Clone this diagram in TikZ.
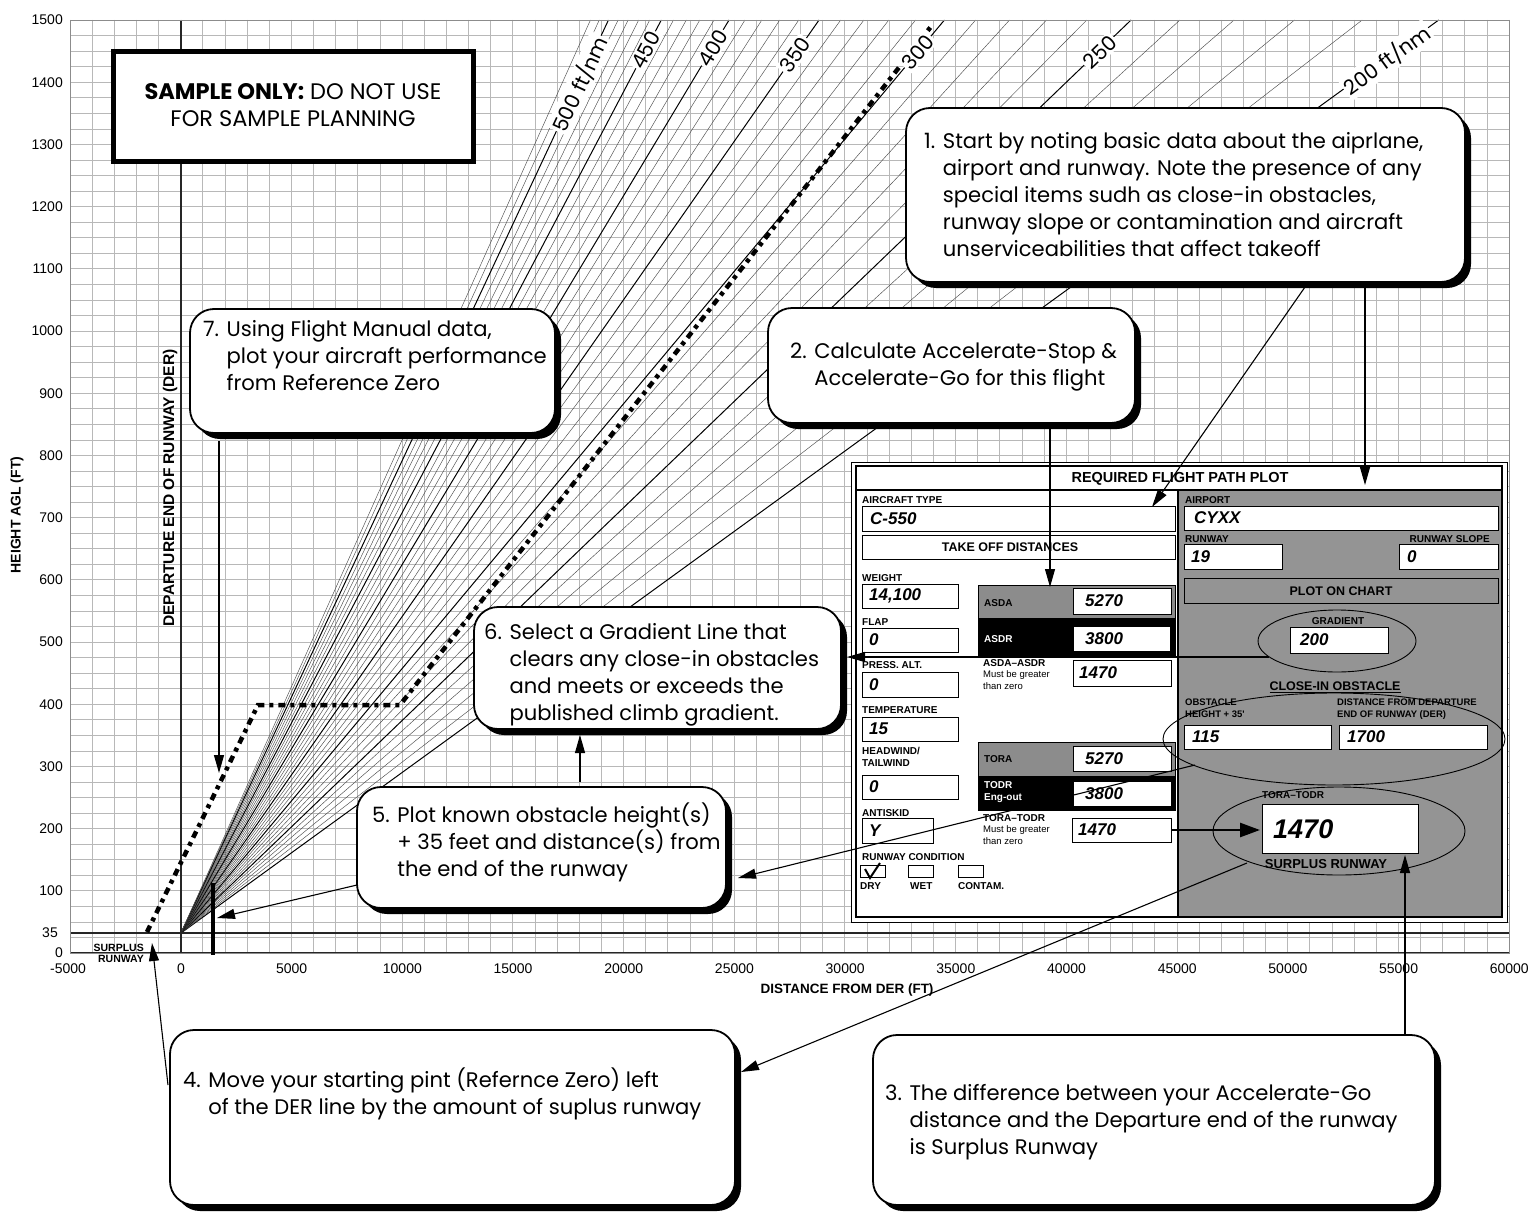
\documentclass[tikz,border=0pt]{standalone}
\usepackage{fontspec}
\setmainfont{Liberation Sans}
\newfontfamily\calfont{Poppins}
\newfontfamily\hel{Liberation Sans}
\usetikzlibrary{arrows.meta,shadows,calc,shapes.geometric}
\definecolor{formgray}{gray}{0.58}
\definecolor{blockgray}{gray}{0.55}
\newcommand\FBx[7]{\draw[fboxs] (#2,#3) rectangle (#4,#5); \node[fval] (#1) at ({#2+#6},{(#3+#5)/2}) {#7};}
\newcommand\FLb[4]{\node[flabs] (#1) at (#2,#3) {#4};}
\begin{document}
\begin{tikzpicture}[x=1pt,y=-1pt,
  gridl/.style={black!28,line width=0.7pt},
  fanl/.style={black!70,line width=0.45pt},
  fanm/.style={black,line width=1pt},
  axisl/.style={black!85,line width=1.1pt},
  plotd/.style={black,line width=4.5pt,dash pattern=on 7pt off 5pt on 4pt off 5pt},
  callout/.style={draw=black,line width=1.8pt,fill=white,rounded corners=24pt,inner sep=0pt,outer sep=0pt,
    drop shadow={shadow xshift=6pt,shadow yshift=-6pt,opacity=1,fill=black}},
  ctext/.style={font=\calfont\fontsize{21.1}{27}\selectfont,align=left,inner sep=0pt,anchor=north west},
  glab/.style={font=\calfont\fontsize{20.5}{20.5}\selectfont,fill=white,inner sep=1.5pt},
  tick/.style={font=\hel\fontsize{14}{14}\selectfont,inner sep=0pt},
  atitle/.style={font=\hel\bfseries\fontsize{14}{14}\selectfont,inner sep=0pt},
  fboxs/.style={draw=black,fill=white,line width=1pt},
  fval/.style={font=\hel\bfseries\itshape\fontsize{17}{17}\selectfont,anchor=west,inner sep=0pt},
  flabs/.style={font=\hel\bfseries\fontsize{10}{12.5}\selectfont,anchor=west,inner sep=0pt},
  fsmall/.style={font=\hel\fontsize{9.5}{12}\selectfont,anchor=north west,align=left,inner sep=0pt},
  fhead/.style={font=\hel\bfseries\fontsize{12.5}{12.5}\selectfont,inner sep=0pt},
  arr/.style={line width=1.1pt,-{Triangle[length=18pt,width=10pt]}},
  arrthick/.style={line width=2.6pt,-{Triangle[length=20pt,width=14pt]}}
]
\useasboundingbox (0,0) rectangle (1534,1215);
\fill[white] (0,0) rectangle (1534,1215);

% ---------- grid ----------
\foreach \i in {0,...,65} \draw[gridl] ({70+\i*22.138},20) -- ({70+\i*22.138},953);
\foreach \j in {0,...,60} \draw[gridl] (70,{20+\j*15.55}) -- (1509,{20+\j*15.55});

% ---------- gradient fan ----------
\coordinate (rz) at (181,933);
\foreach \g in {200,210,...,520}{
  \pgfmathsetmacro\fs{0.0047*\g-0.214}
  \pgfmathsetmacro\fx{181+913/\fs}
  \pgfmathtruncatemacro\mm{mod(\g,50)}
  \ifnum\mm=0 \draw[fanm] (rz) -- (\fx,20); \else \draw[fanl] (rz) -- (\fx,20); \fi
}

% ---------- axes ----------
\draw[axisl] (181,20) -- (181,953);
\draw[axisl] (70,933) -- (1509,933);
\draw[axisl] (70,953) -- (1509,953);
\draw[black!45,line width=0.8pt] (70,20) rectangle (1509,953);

% plotted performance
\draw[plotd] (147,932) -- (258,705) -- (400,705) -- (933,24);

% obstacle bar
\draw[black,line width=4.5pt] (213,883) -- (213,955);
\coordinate (bar) at (217,918);

% gradient labels
\node[glab,rotate=64.9] (g500) at (580,84) {500 ft/nm};
\node[glab,rotate=62.2] (g450) at (646,50) {450};
\node[glab,rotate=59.0] (g400) at (713,48) {400};
\node[glab,rotate=55.1] (g350) at (795,55) {350};
\node[glab,rotate=50.1] (g300) at (918,52) {300};
\node[glab,rotate=43.9] (g250) at (1100,52) {250};
\node[glab,rotate=36.0] (g200) at (1387,60) {200 ft/nm};

% tick labels
\foreach \h in {100,200,...,1500} \node[tick,anchor=east] (yt\h) at (63,{953-\h*0.622}) {\h};
\node[tick,anchor=east] (yt35) at (58,933) {35};
\node[tick,anchor=east] (yt0) at (63,953) {0};
\foreach \k/\lab in {0/0,1/5000,2/10000,3/15000,4/20000,5/25000,6/30000,7/35000,8/40000,9/45000,10/50000,11/55000,12/60000}
  \node[tick] (xt\k) at ({181+\k*110.69},969) {\lab};
\node[tick] (xtm) at (68,969) {-5000};
\node[font=\hel\bfseries\fontsize{10.5}{11}\selectfont,align=right,anchor=north east,inner sep=0pt] (surpl) at (144,944) {SURPLUS\\RUNWAY};

\node[atitle,rotate=90] (ylab) at (17,515) {HEIGHT AGL (FT)};
\node[atitle,rotate=90,font=\hel\bfseries\fontsize{15.5}{15.5}\selectfont] (derlab) at (170,488) {DEPARTURE END OF RUNWAY (DER)};
\node[atitle,font=\hel\bfseries\fontsize{13.5}{14}\selectfont] (xlab) at (847,990) {DISTANCE FROM DER (FT)};

% ---------- sample box ----------
\draw[black,line width=5pt,fill=white] (113,52) rectangle (473,161);
\node[font=\calfont\fontsize{22.5}{27}\selectfont,align=center,inner sep=0pt] (samp) at (293,105) {\textbf{SAMPLE ONLY:} DO NOT USE\\FOR SAMPLE PLANNING};

% ---------- callouts ----------
\node[callout,minimum width=559,minimum height=174] (c1) at (1185.5,195) {};
\node[ctext] (t1) at (924,132) {1. Start by noting basic data about the aiprlane,\\\phantom{1. }airport and runway. Note the presence of any\\\phantom{1. }special items sudh as close-in obstacles,\\\phantom{1. }runway slope or contamination and aircraft\\\phantom{1. }unserviceabilities that affect takeoff};

\node[callout,minimum width=367,minimum height=115] (c2) at (951.5,365.5) {};
\node[ctext] (t2) at (790,343) {2. Calculate Accelerate-Stop \&\\\phantom{2. }Accelerate-Go for this flight};

\node[callout,minimum width=365,minimum height=124] (c7) at (372.5,371) {};
\node[ctext] (t7) at (203,320) {7. Using Flight Manual data,\\\phantom{7. }plot your aircraft performance\\\phantom{7. }from Reference Zero};

\node[callout,minimum width=367,minimum height=122] (c6) at (657.5,668) {};
\node[ctext] (t6) at (484,623) {6. Select a Gradient Line that\\\phantom{6. }clears any close-in obstacles\\\phantom{6. }and meets or exceeds the\\\phantom{6. }published climb gradient.};

\node[callout,minimum width=369,minimum height=121] (c5) at (541.5,847.5) {};
\node[ctext] (t5) at (372,803) {5. Plot known obstacle height(s)\\\phantom{5. }+ 35 feet and distance(s) from\\\phantom{5. }the end of the runway};

\node[callout,minimum width=565,minimum height=175] (c4) at (452.5,1117.5) {};
\node[ctext] (t4) at (183,1068) {4. Move your starting pint (Refernce Zero) left\\\phantom{4. }of the DER line by the amount of suplus runway};

\node[callout,minimum width=562,minimum height=170] (c3) at (1154,1120) {};
\node[ctext] (t3) at (885,1084) {3. The difference between your Accelerate-Go\\\phantom{3. }distance and the Departure end of the runway\\\phantom{3. }is Surplus Runway};

% ---------- form ----------
\draw[black,line width=0.8pt,fill=white] (851,462) rectangle (1507,922);
\fill[formgray] (1178,490) rectangle (1502,917);
\draw[black,line width=1.6pt] (856,466) rectangle (1502,917);
\draw[black,line width=1.2pt] (856,490) -- (1502,490);
\draw[black,line width=1.2pt] (1178,490) -- (1178,917);
\node[font=\hel\bfseries\fontsize{14.5}{14.5}\selectfont,inner sep=0pt] (ftitle) at (1180,479) {REQUIRED FLIGHT PATH PLOT};

% left column
\FLb{lac}{862}{500}{AIRCRAFT TYPE}
\FBx{vac}{862}{506}{1175}{531}{8}{C-550}
\draw[fboxs] (862,535) rectangle (1175,559);
\node[fhead] (tod) at (1010,547) {TAKE OFF DISTANCES};
\FLb{lw}{862}{578}{WEIGHT}
\FBx{vw}{862}{584}{958}{608}{7}{14,100}
\fill[blockgray] (978,585) rectangle (1175,618);
\fill[black] (978,618) rectangle (1175,655);
\draw[black,line width=0.8pt] (978,585) rectangle (1175,655);
\FLb{lasda}{984}{603}{ASDA}
\node[flabs,text=white] (lasdr) at (984,639) {ASDR};
\FBx{vasda}{1073}{588}{1171}{614}{12}{5270}
\draw[black,line width=2.5pt,fill=white] (1073,626) rectangle (1171,652);
\node[fval] (vasdr) at (1085,639) {3800};
\FLb{lflap}{862}{622}{FLAP}
\FBx{vflap}{862}{628}{958}{652}{7}{0}
\FLb{lpa}{862}{665}{PRESS. ALT.}
\FBx{vpa}{862}{672}{958}{697}{7}{0}
\FLb{lad}{983}{663}{ASDA–ASDR}
\node[fsmall] (lad2) at (983,670) {Must be greater\\than zero};
\FBx{vad}{1073}{660}{1171}{686}{6}{1470}
\FLb{ltemp}{862}{710}{TEMPERATURE}
\FBx{vtemp}{862}{717}{958}{741}{7}{15}
\node[flabs,align=left,anchor=north west] (lhw) at (862,747) {HEADWIND/\\TAILWIND};
\FBx{vhw}{862}{775}{958}{799}{7}{0}
\fill[blockgray] (978,742) rectangle (1175,776);
\fill[black] (978,776) rectangle (1175,810);
\draw[black,line width=0.8pt] (978,742) rectangle (1175,810);
\FLb{ltora}{984}{759}{TORA}
\node[flabs,text=white,align=left,anchor=north west] (ltodr) at (984,781) {TODR\\Eng-out};
\FBx{vtora}{1073}{746}{1171}{771}{12}{5270}
\FBx{vtodr}{1073}{781}{1171}{806}{12}{3800}
\FLb{lask}{862}{813}{ANTISKID}
\FBx{vask}{862}{818}{933}{843}{7}{Y}
\FLb{ltt}{983}{818}{TORA–TODR}
\node[fsmall] (ltt2) at (983,825) {Must be greater\\than zero};
\FBx{vtt}{1072}{818}{1171}{842}{6}{1470}
\FLb{lrc}{862}{857}{RUNWAY CONDITION}
\draw[black,line width=1pt] (860,865) rectangle (885,877);
\draw[black,line width=1pt] (908,865) rectangle (933,877);
\draw[black,line width=1pt] (958,865) rectangle (983,877);
\draw[black,line width=2pt] (865,869) -- (870,878) -- (880,863);
\FLb{ldry}{860}{886}{DRY}
\FLb{lwet}{910}{886}{WET}
\FLb{lcon}{958}{886}{CONTAM.}

% right column
\FLb{lap}{1185}{500}{AIRPORT}
\FBx{vap}{1184}{506}{1498}{530}{10}{CYXX}
\FLb{lrw}{1185}{539}{RUNWAY}
\FBx{vrw}{1184}{544}{1282}{569}{7}{19}
\node[flabs,anchor=east] (lrs) at (1490,539) {RUNWAY SLOPE};
\FBx{vrs}{1399}{544}{1498}{569}{8}{0}
\draw[black,line width=1pt] (1184,578) rectangle (1498,603);
\node[fhead] (poc) at (1341,591) {PLOT ON CHART};
\node[draw=black,ellipse,line width=0.9pt,minimum width=158,minimum height=62,inner sep=0pt] (ge) at (1337,641) {};
\node[flabs,anchor=center] (lgr) at (1338,621) {GRADIENT};
\FBx{vgr}{1290}{627}{1388}{653}{10}{200}
\node[fhead] (lcio) at (1335,687) {\underline{CLOSE-IN OBSTACLE}};
\node[draw=black,ellipse,line width=0.9pt,minimum width=342,minimum height=92,inner sep=0pt] (oe) at (1334,739) {};
\node[flabs,font=\hel\bfseries\fontsize{9.5}{12}\selectfont,align=left,anchor=north west] (lobs) at (1185,699) {OBSTACLE\\HEIGHT + 35'};
\node[flabs,font=\hel\bfseries\fontsize{9.5}{12}\selectfont,align=left,anchor=north west] (lder) at (1337,699) {DISTANCE FROM DEPARTURE\\END OF RUNWAY (DER)};
\FBx{vobs}{1184}{725}{1331}{749}{8}{115}
\FBx{vder}{1339}{725}{1487}{749}{8}{1700}
\FLb{ltt3}{1262}{795}{TORA–TODR}
\draw[fboxs] (1262,804) rectangle (1418,853);
\node[font=\hel\bfseries\itshape\fontsize{27}{27}\selectfont,anchor=west,inner sep=0pt] (vsr) at (1273,829) {1470};
\node[fhead,font=\hel\bfseries\fontsize{13}{13}\selectfont] (lsr) at (1326,864) {SURPLUS RUNWAY};
\node[draw=black,ellipse,line width=0.9pt,minimum width=252,minimum height=88,inner sep=0pt] (se) at (1339,831) {};

% ---------- connectors ----------
\coordinate (a1) at (1365,485);
\draw[arr] (a1 |- c1.south) -- (a1);
\coordinate (a1b) at (1152,507);
\draw[arr] ($(c1.south west)!0.72!(c1.south east)$) -- (a1b);
\coordinate (a2) at (1050,587);
\draw[arr] (a2 |- c2.south) -- (a2);
\coordinate (g6) at (1269,657);
\draw[arr] (g6) -- ($(g6 -| c6.east)+(6,0)$);
\coordinate (o5) at (1195,765);
\coordinate (t5in) at (738,878);
\draw[arr] (o5) -- (t5in);
\coordinate (c5l) at (357,885);
\draw[arr] (c5l) -- (bar);
\coordinate (u6) at (580,782);
\draw[arr] (u6) -- ($(u6 |- c6.south)+(0,6)$);
\coordinate (d7) at (219,773);
\draw[arr] ($(d7 |- c7.south)+(0,8)$) -- (d7);
\coordinate (s4) at (1247,863);
\coordinate (t4in) at (741,1072);
\draw[arr] (s4) -- (t4in);
\coordinate (c4l) at (168,1085);
\coordinate (surpt) at (152,943);
\draw[arr] (c4l) -- (surpt);
\coordinate (a3) at (1405,855);
\draw[arr] (a3 |- c3.north) -- (a3);
\coordinate (vtte) at (1171,830);
\coordinate (vsrw) at (1260,830);
\draw[arrthick] (vtte) -- (vsrw);
\end{tikzpicture}
\end{document}
